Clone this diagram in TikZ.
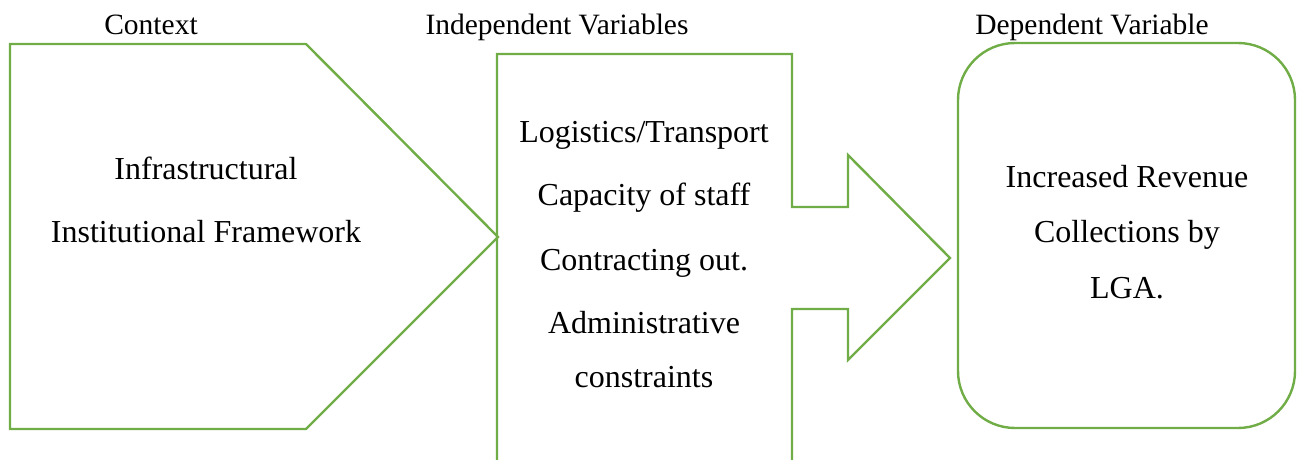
\documentclass[tikz,border=0pt]{standalone}
\usepackage{fontspec}
\setmainfont{Liberation Serif}
\definecolor{shapegreen}{HTML}{70AD47}
\begin{document}
\begin{tikzpicture}[x=1pt,y=-1pt,
  outline/.style={draw=shapegreen,line width=2.4pt,line join=miter},
  maintext/.style={anchor=base,inner sep=0pt,font=\fontsize{32}{38}\selectfont},
  headtext/.style={anchor=base,inner sep=0pt,font=\fontsize{29.5}{34}\selectfont}]
\useasboundingbox (0,0) rectangle (1301,459);
% context pentagon
\draw[outline] (10,44) -- (306,44) -- (498,237) -- (306,429) -- (10,429) -- cycle;
% independent variables arrow (open at bottom)
\draw[outline] (497,462) -- (497,54) -- (792,54) -- (792,207) -- (848,207) -- (848,155)
  -- (950,258) -- (848,360) -- (848,309) -- (792,309) -- (792,462);
% dependent variable rounded box
\draw[outline,rounded corners=57pt] (958,43) rectangle (1295,428);
% headers
\node[headtext] (hctx) at (151,34) {Context};
\node[headtext] (hind) at (557,34) {Independent Variables};
\node[headtext] (hdep) at (1092,34) {Dependent Variable};
% context text
\node[maintext] (c1) at (206,179) {Infrastructural};
\node[maintext] (c2) at (206,242) {Institutional Framework};
% independent text
\node[maintext] (i1) at (644,142) {Logistics/Transport};
\node[maintext] (i2) at (644,205) {Capacity of staff};
\node[maintext] (i3) at (644,270) {Contracting out.};
\node[maintext] (i4) at (644,333) {Administrative};
\node[maintext] (i5) at (644,387) {constraints};
% dependent text
\node[maintext] (d1) at (1127,187) {Increased Revenue};
\node[maintext] (d2) at (1127,242) {Collections by};
\node[maintext] (d3) at (1127,298) {LGA.};
\end{tikzpicture}
\end{document}
